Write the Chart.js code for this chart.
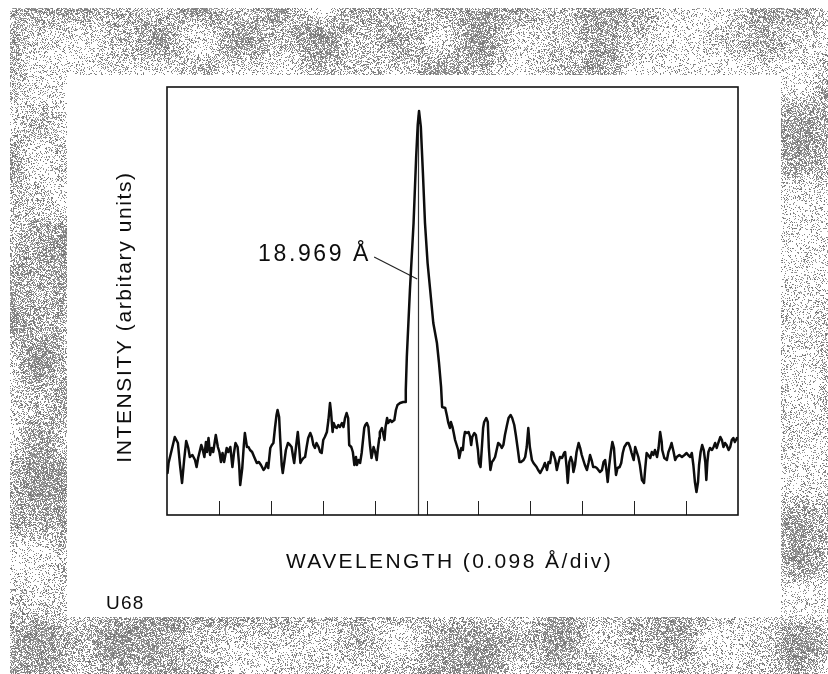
<!DOCTYPE html>
<html>
<head>
<meta charset="utf-8">
<script src="https://cdn.jsdelivr.net/npm/chart.js@4.4.1/dist/chart.umd.min.js"></script>
<style>
  html, body { margin: 0; padding: 0; background: #ffffff; }
  #wrap { position: relative; width: 828px; height: 674px; overflow: hidden; }
  #bg, #chart { position: absolute; left: 0; top: 0; }
</style>
</head>
<body>
<div id="wrap">
  <canvas id="bg" width="828" height="674"></canvas>
  <canvas id="chart" width="828" height="674"></canvas>
</div>
<script>
// ---- data (x in scale divisions of 0.098 Å, y in arbitrary intensity units) ----
const wavelengthDiv = [
  0.01,0.03,0.09,0.15,0.21,0.25,0.29,0.33,0.37,0.41,0.44,0.49,0.54,0.57,0.60,0.66,0.68,0.72,0.75,0.77,
  0.80,0.83,0.86,0.89,0.94,0.98,1.01,1.04,1.07,1.10,1.15,1.18,1.22,1.26,1.29,1.32,1.36,1.39,1.41,1.45,
  1.48,1.50,1.54,1.57,1.60,1.64,1.68,1.73,1.77,1.81,1.86,
  1.89,1.92,1.95,1.99,2.02,2.05,2.08,2.11,2.13,2.16,2.18,2.21,2.23,2.26,2.29,2.33,2.37,2.40,2.43,2.45,
  2.49,2.52,2.54,2.57,2.60,2.63,2.66,2.69,2.72,2.76,2.79,2.82,2.85,2.88,2.92,2.95,2.98,3.01,3.04,3.08,
  3.11,3.14,3.16,3.19,3.21,3.24,3.27,3.30,3.33,3.37,3.40,3.43,3.46,3.49,3.51,3.55,3.58,3.61,3.64,3.66,
  3.69,3.72,3.75,3.78,3.80,
  3.82,3.85,3.88,3.91,3.94,3.98,4.01,4.04,4.06,4.09,4.10,4.14,4.17,4.19,4.21,4.24,4.26,4.30,4.33,4.38,
  4.41,4.44,4.49,4.55,4.59,4.60,4.62,4.68,4.75,4.80,4.83,4.855,4.89,4.93,4.97,5.02,5.07,5.13,5.20,5.24,
  5.28,5.30,5.36,5.39,5.42,5.45,5.47,5.50,5.52,5.55,5.58,5.61,5.63,5.67,5.70,5.72,
  5.74,5.78,5.81,5.84,5.86,5.88,5.92,5.95,5.99,6.01,6.04,6.06,6.09,6.11,6.15,6.18,6.20,6.23,6.26,6.29,
  6.32,6.35,6.38,6.42,6.45,6.48,6.51,6.55,6.58,6.62,6.65,6.69,6.72,6.76,6.79,6.82,6.87,6.90,6.93,6.96,
  6.99,7.03,7.06,7.09,7.12,7.15,7.19,7.22,7.25,7.28,7.32,7.35,7.38,7.41,7.44,7.48,7.51,7.54,7.57,7.61,
  7.65,
  7.67,7.70,7.72,7.75,7.78,7.81,7.83,7.86,7.89,7.93,7.96,7.99,8.02,8.05,8.09,8.12,8.15,8.18,8.21,8.25,
  8.28,8.31,8.34,8.38,8.41,8.44,8.47,8.49,8.52,8.55,8.58,8.61,8.63,8.65,8.68,8.72,8.75,8.78,8.81,8.86,
  8.89,8.92,8.95,8.99,9.02,9.05,9.08,9.11,9.15,9.19,9.21,9.24,9.27,9.31,9.34,9.37,9.40,9.44,9.47,9.50,
  9.53,9.54,9.58,
  9.63,9.66,9.69,9.72,9.76,9.79,9.82,9.87,9.92,9.97,10.01,10.04,10.08,10.11,10.14,10.17,10.20,10.23,10.25,10.28,
  10.31,10.34,10.37,10.39,10.41,10.43,10.46,10.50,10.53,10.56,10.59,10.62,10.66,10.69,10.72,10.75,10.78,10.82,10.85,10.88,
  10.91,10.94,10.98,11.0
];
const intensity = [
  10.5,13,16.25,19.5,18,12.5,8,13.75,18.5,16.75,14.5,15,13.75,12,14.25,17.5,16.75,14.5,18.25,15.75,
  19.25,15,16.75,15.75,20,17,15.75,13.25,15.5,13.25,16.75,15.75,17,12,15.5,18,17,12.5,7.5,11.75,
  17.5,20.5,17,17,16.25,15.75,14.5,13,13.25,12.5,11.25,
  11.75,13,11.75,16.75,17.5,18,21.75,25,26.25,24.5,19.25,12.5,10.5,13.25,16.25,18,17.5,17,14.5,13,
  17.5,20.75,18,13,13.75,14.25,14.5,17,19.25,20.5,19.5,17.5,16.75,18,17,15.75,15.5,18.75,19.5,20.75,
  23.75,28,25.75,20.75,23,22,21.75,22.5,22,23,22,24.25,25.5,24.25,17.5,17,15.75,12.5,14.5,12.5,
  13.75,13,15.5,19.25,21.75,
  22.5,23,22,17.5,14.25,17,15.75,13.75,16.25,19.25,20.75,21.75,20,18.75,22,24.25,23,23.75,23.25,23.75,
  26.25,27.5,28,28.25,28.25,31.25,39.5,56.25,73,89.5,97.5,101,97,85.5,73,63,56.25,48,43,38,
  32,27,26.75,25,23,21.75,23.25,22,20.75,18.75,17.5,16.25,14.25,16.75,16.25,19.25,
  20.75,20.5,20.75,19.5,17.5,19.5,20.5,20,16.25,13,12,15.75,21.75,23.25,24.25,23.25,16.75,11.25,13.25,13.75,
  14.5,16.25,18,17.5,16.75,17.5,20,22.5,24.25,25,24.25,22.5,20,16.25,13.25,13.25,13.75,14.5,17,21.75,
  17,13.75,13,12.5,12,11.25,10.5,11.25,12,13,11.25,13.25,13,15.75,15.5,13.75,11.25,13,14.5,14.25,
  15.5,
  15.75,11.75,8,13.25,14.5,13.25,10.75,12.5,15.75,18,16.75,15,13.75,12.5,11.25,13,15,13.75,12,12,
  11.75,11.25,10.75,11.25,13.25,13.75,10.75,8.25,12.5,15.75,18.25,16.75,13,10,11.75,12,13,15.5,17,18,
  18,17,15.5,13.75,17,15.75,14.5,12.5,8.75,8,11.25,15.5,15,14.25,15.75,15,16.25,14.5,16.75,20.75,
  18.25,16.25,14.25,
  13.75,15.75,16.75,18,15.75,13.75,14.5,15,14.5,15,15.5,15,14.5,15.5,12.5,8.25,5.75,8.25,12.5,15.75,
  17.5,16.25,13.25,8.75,13.25,15.75,16.75,16.25,17,18,16.75,18,19.5,18.75,17,18,17.5,16.25,17,18.75,
  19.25,18.25,19.25,19
];
const tickDivs = [1,2,3,4,5,6,7,8,9,10];
const xRange = [0, 11];
const yRange = [0, 107];
const peakDiv = 4.84;
const peakTop = 100;
const peakLabel = '18.969 Å';
const labelAnchor = [3.93, 63.5];      // right end / baseline of label (data units)
const leaderFrom = [3.99, 64.5];
const leaderTo = [4.82, 59];
const xTitle = 'WAVELENGTH (0.098 Å/div)';
const yTitle = 'INTENSITY (arbitary units)';
const figCode = 'U68';

// ---- decorative textured frame (deterministic) ----
(function drawFrame() {
  const c = document.getElementById('bg');
  const ctx = c.getContext('2d');
  const W = c.width, H = c.height;
  const img = ctx.createImageData(W, H);
  function hash(x, y) {
    let h = Math.imul(x, 374761393) + Math.imul(y, 668265263);
    h = Math.imul(h ^ (h >>> 13), 1274126177);
    h = h ^ (h >>> 16);
    return (h >>> 0) / 4294967295;
  }
  const cell = 40;
  function smooth(t) { return t * t * (3 - 2 * t); }
  function blob(x, y) {
    const gx = x / cell, gy = y / cell;
    const i = Math.floor(gx), j = Math.floor(gy);
    const fx = smooth(gx - i), fy = smooth(gy - j);
    const a = hash(i + 1000, j + 2000), b = hash(i + 1001, j + 2000);
    const cc = hash(i + 1000, j + 2001), d = hash(i + 1001, j + 2001);
    return (a * (1 - fx) + b * fx) * (1 - fy) + (cc * (1 - fx) + d * fx) * fy;
  }
  const inner = { l: 67, r: 781, t: 75, b: 617 };
  for (let y = 0; y < H; y++) {
    for (let x = 0; x < W; x++) {
      const k = (y * W + x) * 4;
      let v = 255;
      const inFrame = x >= 10 && y >= 8 && !(x >= inner.l && x < inner.r && y >= inner.t && y < inner.b);
      if (inFrame) {
        const bl = blob(x, y);
        const s = Math.min(1, Math.max(0, (bl - 0.25) * 1.6));
        const dens = 0.18 + 0.55 * s;
        if (hash(x + 7, y + 13) < dens) v = 110 + Math.floor(hash(x + 31, y + 5) * 60);
      }
      img.data[k] = v; img.data[k + 1] = v; img.data[k + 2] = v; img.data[k + 3] = 255;
    }
  }
  ctx.putImageData(img, 0, 0);
})();

// ---- chart ----
const points = wavelengthDiv.map((x, i) => ({ x: x, y: intensity[i] }));
const FONT = '"Liberation Sans", Arial, Helvetica, sans-serif';

const decor = {
  id: 'decor',
  beforeDatasetsDraw(chart) {
    const { ctx, chartArea: a, scales: { x, y } } = chart;
    ctx.save();
    ctx.strokeStyle = '#222';
    ctx.lineWidth = 1;
    tickDivs.forEach(t => {
      const px = Math.round(x.getPixelForValue(t)) + 0.5;
      ctx.beginPath();
      ctx.moveTo(px, a.bottom);
      ctx.lineTo(px, a.bottom - 14);
      ctx.stroke();
    });
    const mx = Math.round(x.getPixelForValue(peakDiv)) + 0.5;
    ctx.strokeStyle = '#333';
    ctx.lineWidth = 1.2;
    ctx.beginPath();
    ctx.moveTo(mx, y.getPixelForValue(0));
    ctx.lineTo(mx, y.getPixelForValue(peakTop));
    ctx.stroke();
    ctx.strokeStyle = '#222';
    ctx.lineWidth = 1.1;
    ctx.beginPath();
    ctx.moveTo(x.getPixelForValue(leaderFrom[0]), y.getPixelForValue(leaderFrom[1]));
    ctx.lineTo(x.getPixelForValue(leaderTo[0]), y.getPixelForValue(leaderTo[1]));
    ctx.stroke();
    ctx.restore();
  },
  afterDraw(chart) {
    const { ctx, chartArea: a, scales: { x, y } } = chart;
    ctx.save();
    ctx.strokeStyle = '#111';
    ctx.lineWidth = 1.6;
    ctx.strokeRect(a.left, a.top, a.right - a.left, a.bottom - a.top);
    ctx.fillStyle = '#0d0d0d';
    ctx.textBaseline = 'alphabetic';
    ctx.font = '23px ' + FONT;
    ctx.letterSpacing = '2.6px';
    ctx.textAlign = 'right';
    ctx.fillText(peakLabel, x.getPixelForValue(labelAnchor[0]), y.getPixelForValue(labelAnchor[1]));
    ctx.font = '21px ' + FONT;
    ctx.letterSpacing = '2.4px';
    ctx.textAlign = 'center';
    ctx.fillText(xTitle, (a.left + a.right) / 2 - 3, a.bottom + 53);
    ctx.save();
    ctx.translate(a.left - 36, (a.top + a.bottom) / 2 + 16);
    ctx.rotate(-Math.PI / 2);
    ctx.letterSpacing = '1.6px';
    ctx.fillText(yTitle, 0, 0);
    ctx.restore();
    ctx.font = '19px ' + FONT;
    ctx.letterSpacing = '1.2px';
    ctx.textAlign = 'left';
    ctx.fillText(figCode, 106, 609);
    ctx.restore();
  }
};

new Chart(document.getElementById('chart'), {
  type: 'line',
  data: {
    datasets: [{
      data: points,
      borderColor: '#0d0d0d',
      borderWidth: 2.5,
      borderJoinStyle: 'round',
      borderCapStyle: 'round',
      pointRadius: 0,
      tension: 0,
      fill: false
    }]
  },
  options: {
    responsive: false,
    animation: false,
    layout: { padding: { left: 167, right: 90, top: 87, bottom: 159 } },
    scales: {
      x: { type: 'linear', min: xRange[0], max: xRange[1], display: false },
      y: { type: 'linear', min: yRange[0], max: yRange[1], display: false }
    },
    plugins: { legend: { display: false }, tooltip: { enabled: false } }
  },
  plugins: [decor]
});
</script>
</body>
</html>
